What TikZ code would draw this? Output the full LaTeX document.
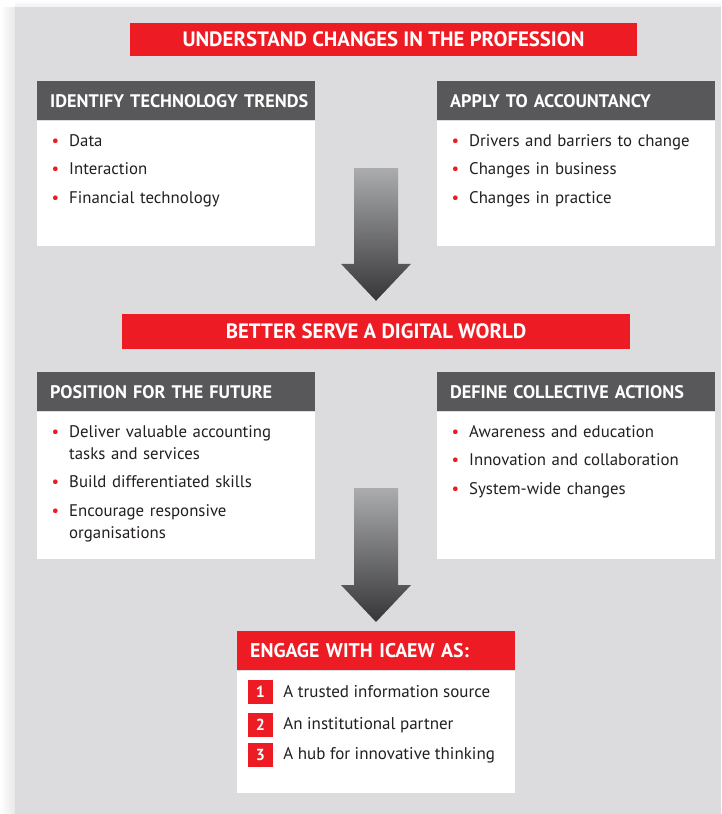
\documentclass[tikz,border=0pt]{standalone}
\usepackage{fontspec}
\setmainfont{PT Sans}
\usepackage{tikz}
\usetikzlibrary{positioning, calc}

\definecolor{icred}{HTML}{ED1C24}
\definecolor{icdark}{HTML}{58585A}
\definecolor{icpanel}{HTML}{DCDCDE}
\definecolor{ictext}{HTML}{231F20}
\definecolor{arrowtop}{HTML}{ABACAE}
\definecolor{arrowbot}{HTML}{363638}

\tikzset{
  banner/.style={fill=icred, text=white, inner sep=0pt, font=\bfseries\fontsize{20.8}{22}\selectfont},
  header/.style={fill=icdark, text=white, anchor=north west, minimum height=39pt, inner xsep=13pt, inner ysep=0pt, text width=252pt, align=left, font=\bfseries\fontsize{18.2}{20}\selectfont,
    execute at begin node=\hbox\bgroup, execute at end node=\egroup},
  body/.style={fill=white, text=ictext, below=0pt of #1, inner xsep=14pt, inner ysep=10pt, text width=250pt, align=left, font=\fontsize{16.8}{22}\selectfont},
  numbox/.style={fill=icred, text=white, minimum width=25pt, minimum height=24pt, inner sep=0pt, font=\bfseries\fontsize{16}{16}\selectfont},
  entry/.style={text=ictext, inner sep=0pt, anchor=west, font=\fontsize{17}{20}\selectfont}
}

% bulleted line with hanging indent
\newcommand\bitem[1]{\par\hangindent=18pt\hangafter=1\noindent\makebox[18pt][l]{\hspace{0.5pt}\textcolor{icred}{\textbullet}}\strut#1\par}
% fixed height list area
\newcommand\blist[2]{\parbox[t][#1][t]{\linewidth}{\raggedright\setlength{\parskip}{6.5pt}#2}}
% grey shaded block arrow from #1 down to #2
\newcommand\blockarrow[2]{\shade[top color=arrowtop, bottom color=arrowbot] let \p1=(#1), \p2=(#2) in
  (\x1-22pt,\y1) -- (\x1+22pt,\y1) -- (\x1+22pt,\y2+37pt) -- (\x1+35pt,\y2+37pt) -- (\x1,\y2)
  -- (\x1-35pt,\y2+37pt) -- (\x1-22pt,\y2+37pt) -- cycle;}

\begin{document}
\begin{tikzpicture}[x=1pt, y=-1pt]
    \useasboundingbox (0,0) rectangle (721,814);
    \fill[white] (0,0) rectangle (721,814);
    \shade[left color=white, right color=black!9] (0,7) rectangle (15,814);
    \shade[top color=white, bottom color=black!6] (15,0) rectangle (721,7);
    \fill[icpanel] (15,7) rectangle (721,814);

    \node [banner, minimum width=507pt, minimum height=33pt] (understand) at (383.5,39.5) {UNDERSTAND CHANGES IN THE PROFESSION};

    \node [header] (trends) at (37,81) {IDENTIFY TECHNOLOGY TRENDS};
    \node [body=trends] (trendsbody) {\blist{105pt}{%
        \bitem{Data}
        \bitem{Interaction}
        \bitem{Financial technology}}};

    \node [header] (apply) at (437,81) {APPLY TO ACCOUNTANCY};
    \node [body=apply] (applybody) {\blist{105pt}{%
        \bitem{Drivers and barriers to change}
        \bitem{Changes in business}
        \bitem{Changes in practice}}};

    \node [banner, minimum width=508pt, minimum height=35pt] (serve) at (376,331.5) {BETTER SERVE A DIGITAL WORLD};

    \node [header] (position) at (37,372) {POSITION FOR THE FUTURE};
    \node [body=position] (positionbody) {\blist{127pt}{%
        \bitem{Deliver valuable accounting tasks and services}
        \bitem{Build differentiated skills}
        \bitem{Encourage responsive organisations}}};

    \node [header] (define) at (437,372) {DEFINE COLLECTIVE ACTIONS};
    \node [body=define] (definebody) {\blist{127pt}{%
        \bitem{Awareness and education}
        \bitem{Innovation and collaboration}
        \bitem{System-wide changes}}};

    \node [header, fill=icred, font=\bfseries\fontsize{19.8}{20}\selectfont] (engage) at (237,631) {ENGAGE WITH ICAEW AS:};
    \node [body=engage] (engagebody) {\blist{102pt}{}};

    \node [numbox] (n1) at (260.5,691.5) {1};
    \node [numbox] (n2) at (260.5,725) {2};
    \node [numbox] (n3) at (260.5,755) {3};
    \node [entry, right=10pt of n1] (e1) {A trusted information source};
    \node [entry, right=10pt of n2] (e2) {An institutional partner};
    \node [entry, right=10pt of n3] (e3) {A hub for innovative thinking};

    \coordinate (a1) at (376,168);
    \coordinate (a2) at (376,488);
    \blockarrow{a1}{$(serve.north)+(0pt,13pt)$}
    \blockarrow{a2}{$(engage.north)+(0pt,9pt)$}
\end{tikzpicture}
\end{document}
